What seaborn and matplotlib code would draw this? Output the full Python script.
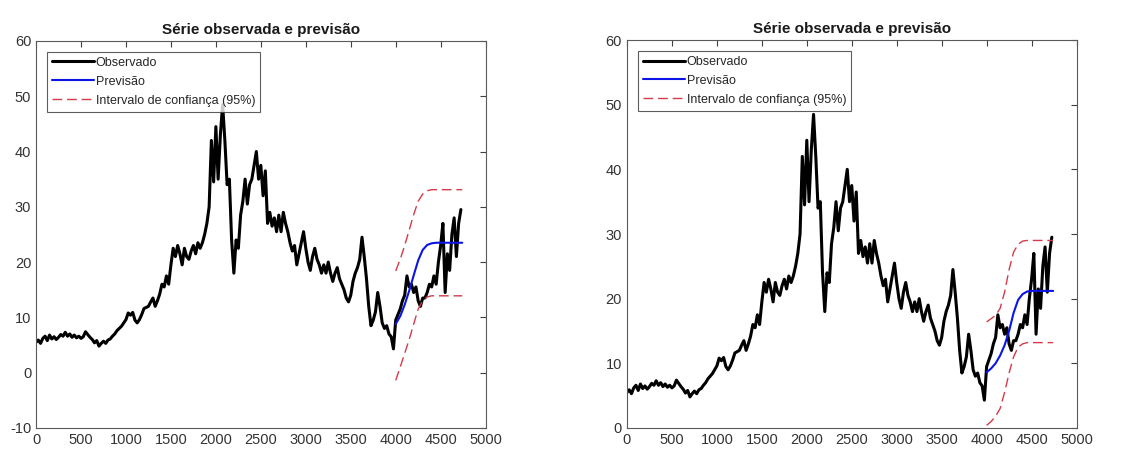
import numpy as np
import pandas as pd
import matplotlib
matplotlib.use("Agg")
import matplotlib.pyplot as plt
import seaborn as sns

# ==========================================
# DATA
# ==========================================
# observed series, one value every 25 steps starting at 0
observed = [
    5.5, 5.9, 5.3, 6.2, 6.6, 5.8, 6.8, 6.1, 6.5, 6.0, 6.4, 6.9, 6.6, 7.3, 6.6, 7.0, 6.4, 6.8, 6.3, 6.6,
    6.2, 6.5, 7.4, 6.9, 6.4, 6.0, 5.4, 5.8, 4.8, 5.3, 5.7, 5.3, 5.9, 6.1, 6.6, 7.0, 7.6, 8.0, 8.4, 9.0,
    9.6, 10.8, 10.4, 10.9, 9.5, 9.0, 9.6, 10.5, 11.6, 11.8, 12.0, 12.8, 13.5, 12.0, 13.0, 14.2, 16.0, 15.5, 17.5, 16.0,
    19.5, 22.5, 21.0, 23.0, 21.5, 19.5, 22.5, 21.0, 20.5, 22.0, 23.0, 21.5, 23.5, 22.5, 23.5, 25.0,
    27.0, 30.0, 42.0, 34.5, 44.5, 35.0, 43.0, 48.5, 42.0, 34.0, 35.0, 24.0, 18.0, 24.0, 22.5, 28.5,
    31.0, 35.0, 30.5, 34.0, 35.0, 37.5, 40.0, 35.0,
    37.5, 32.0, 36.5, 27.0, 29.0, 26.5, 28.0, 25.5, 28.5, 25.5, 29.0, 27.0, 25.5, 23.5, 22.0, 23.0, 19.5, 21.5, 23.5, 25.5,
    22.5, 20.0, 18.5, 21.0, 22.5, 20.5, 19.5, 18.0, 19.5, 18.0, 20.0, 18.0, 16.5, 18.0, 19.0, 17.0, 16.0, 15.0, 13.5, 12.8,
    14.0, 16.5, 18.0, 19.0, 20.5, 24.5, 21.0, 17.0, 12.0, 8.5, 9.5, 11.0, 14.5, 12.0, 9.0, 8.0, 8.5, 7.0, 6.5, 4.3,
    9.5, 10.5, 11.5, 13.0, 14.0, 17.5, 15.5, 16.0, 14.5, 15.5, 13.0, 12.0, 13.5, 13.5, 14.5, 16.0, 15.5, 17.5, 16.0, 20.0,
    23.0, 27.0, 14.5, 21.5, 18.5, 25.0, 28.0, 21.0, 27.0, 29.5,
]
obs_t = np.arange(len(observed)) * 25

# forecast horizon points
fc_t = [4000, 4050, 4100, 4150, 4200, 4250, 4300, 4350, 4400, 4450, 4500, 4740]

# left panel
fc_left = [8.8, 10.2, 12.3, 14.8, 17.6, 20.3, 22.2, 23.1, 23.4, 23.5, 23.5, 23.5]
up_left = [18.4, 20.5, 23.0, 25.8, 28.6, 31.0, 32.3, 32.9, 33.1, 33.1, 33.1, 33.1]
lo_left = [-1.4, 1.0, 3.5, 6.0, 8.8, 11.5, 13.0, 13.7, 13.9, 13.9, 13.9, 13.9]

# right panel
fc_right = [8.6, 9.2, 10.0, 11.2, 12.8, 15.0, 17.8, 19.8, 20.7, 21.1, 21.2, 21.2]
up_right = [16.4, 16.9, 17.4, 18.5, 21.0, 24.5, 27.2, 28.4, 28.9, 29.0, 29.0, 29.0]
lo_right = [0.4, 1.0, 1.8, 3.0, 5.5, 8.5, 11.0, 12.5, 13.0, 13.2, 13.2, 13.2]

x_ticks = list(range(0, 5001, 500))

# ==========================================
# STYLE
# ==========================================
sns.set_style("white")
plt.rcParams['font.family'] = ['Liberation Sans', 'DejaVu Sans']
plt.rcParams['axes.unicode_minus'] = False

AX_COLOR = '#404040'
RED = '#d43a4a'
BLUE = '#0a14e6'
DASH = (0, (7, 3.5))

fig = plt.figure(figsize=(11.41, 4.5), dpi=100)
ax_l = fig.add_axes([0.0316, 0.049, 0.394, 0.860])
ax_r = fig.add_axes([0.5495, 0.049, 0.394, 0.862])

obs_df = pd.DataFrame({'t': obs_t, 'v': observed})


def draw_panel(ax, fc, up, lo, ylim):
    fc_df = pd.DataFrame({'t': fc_t, 'fc': fc, 'up': up, 'lo': lo})
    sns.lineplot(data=obs_df, x='t', y='v', ax=ax, color='black', lw=2.2,
                 label='Observado', sort=False)
    sns.lineplot(data=fc_df, x='t', y='fc', ax=ax, color=BLUE, lw=1.5,
                 label='Previsão')
    sns.lineplot(data=fc_df, x='t', y='up', ax=ax, color=RED, lw=1.0,
                 linestyle=DASH, label='Intervalo de confiança (95%)')
    sns.lineplot(data=fc_df, x='t', y='lo', ax=ax, color=RED, lw=1.0,
                 linestyle=DASH)

    ax.set_xlim(0, 5000)
    ax.set_ylim(*ylim)
    ax.set_xticks(x_ticks)
    ax.set_yticks(list(range(ylim[0], ylim[1] + 1, 10)))
    ax.set_xlabel('')
    ax.set_ylabel('')
    ax.set_title('Série observada e previsão', fontsize=11, fontweight='bold',
                 pad=5, color='#1a1a1a')
    ax.tick_params(direction='in', length=4, width=0.8, colors=AX_COLOR,
                   labelsize=10.5, top=True, right=True,
                   labelcolor='#333333')
    for sp in ax.spines.values():
        sp.set_color('#5a5a5a')
        sp.set_linewidth(0.8)

    leg = ax.legend(loc='upper left', bbox_to_anchor=(0.024, 0.972),
                    fontsize=9, frameon=True, fancybox=False,
                    handlelength=3.4, handletextpad=0.1,
                    borderpad=0.4, labelspacing=0.55, borderaxespad=0.0)
    leg.get_frame().set_edgecolor('#333333')
    leg.get_frame().set_linewidth(0.8)


draw_panel(ax_l, fc_left, up_left, lo_left, (-10, 60))
draw_panel(ax_r, fc_right, up_right, lo_right, (0, 60))

fig.savefig('out.png', dpi=100)
